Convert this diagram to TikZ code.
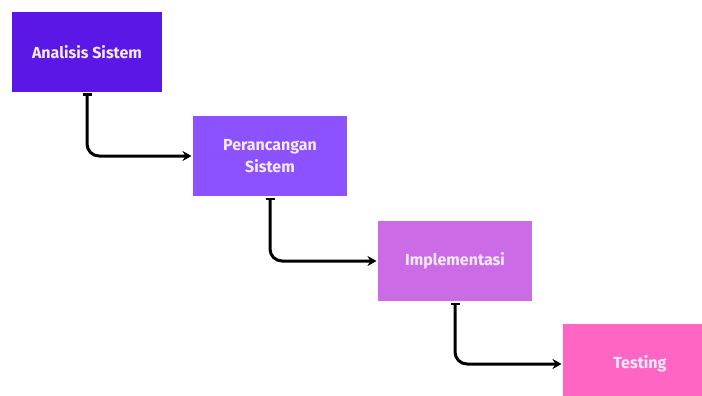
\documentclass[tikz,border=0pt]{standalone}
\usepackage{fontspec}
\setsansfont{Fira Sans}
\usepackage{tikz}
\usetikzlibrary{arrows.meta}

\definecolor{tahap1}{HTML}{5B17E6}
\definecolor{tahap2}{HTML}{8C52FF}
\definecolor{tahap3}{HTML}{CB6CE6}
\definecolor{tahap4}{HTML}{FF66C4}
\definecolor{teks}{HTML}{F3EAFF}

\begin{document}
\begin{tikzpicture}[x=1pt,y=-1pt,line width=3pt]
\tikzstyle{tahap}=[font=\sffamily\bfseries\fontsize{16}{22}\selectfont,text=teks,align=center,minimum height=80pt,minimum width=154pt,inner sep=0pt];
\tikzstyle{dir}=[{Bar[width=9pt,line width=2.5pt]}-{Stealth[length=9pt,width=10pt]},rounded corners=12pt];

\useasboundingbox (0,0) rectangle (702,396);
\clip (0,0) rectangle (702,396);

\node [tahap,fill=tahap1,minimum width=150pt] (v1) at (87,52) {Analisis Sistem};
\node [tahap,fill=tahap2] (v2) at (270,156) {Perancangan\\Sistem};
\node [tahap,fill=tahap3] (v3) at (455,261) {Implementasi};
\node [tahap,fill=tahap4] (v4) at (640,364) {Testing};
\draw [dir] (v1.south) |- (v2.west);
\draw [dir] (v2.south) |- (v3.west);
\draw [dir] (v3.south) |- (v4.west);
\end{tikzpicture}
\end{document}
